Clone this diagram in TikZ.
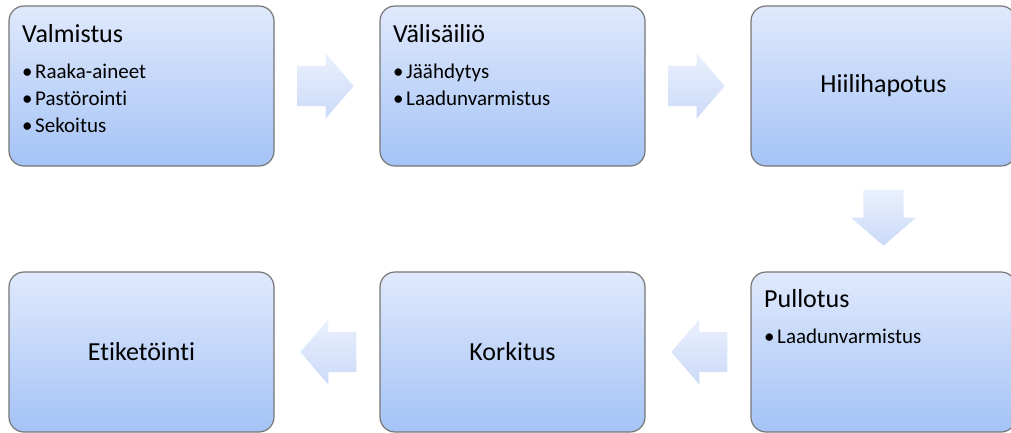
\documentclass[tikz,border=0pt]{standalone}
\usepackage{fontspec}
\setmainfont{Carlito}[Ligatures={NoCommon,NoRare}]
\usetikzlibrary{shapes.arrows,positioning,calc}

\definecolor{boxtop}{RGB}{224,233,252}
\definecolor{boxbot}{RGB}{164,195,246}
\definecolor{arrtop}{RGB}{234,240,253}
\definecolor{arrbot}{RGB}{203,218,249}
\definecolor{boxline}{RGB}{118,118,118}

\newcommand{\bul}{\makebox[13pt][l]{\textbullet}}

\tikzset{
  stage/.style={draw=boxline,line width=1.2pt,rounded corners=15pt,top color=boxtop,bottom color=boxbot,
    minimum width=265pt,minimum height=160pt,inner sep=0pt,outer sep=0pt,font=\fontsize{26}{30}\selectfont},
  blockarr/.style={single arrow,draw=none,top color=arrtop,bottom color=arrbot,inner xsep=0pt,inner ysep=20pt,outer sep=0pt,
    minimum height=56pt,minimum width=65pt,single arrow head extend=12.5pt,single arrow tip angle=98.5},
  ttl/.style={anchor=base west,inner sep=0pt,font=\fontsize{26}{30}\selectfont},
  itm/.style={anchor=base west,inner sep=0pt,font=\fontsize{21}{26}\selectfont}
}

\begin{document}
\begin{tikzpicture}[x=1pt,y=1pt,node distance=106pt]
\useasboundingbox (0,0) rectangle (1011,-432);
% the six stages
\node[stage] (valm) at (141.5,-86) {};
\node[stage,right=of valm] (vali) {};
\node[stage,right=of vali] (hiili) {Hiilihapotus};
\node[stage,below=of hiili] (pull) {};
\node[stage,left=of pull] (kork) {Korkitus};
\node[stage,left=of kork] (etik) {Etiketöinti};
% titles and bullets
\node[ttl] (valmt) at ($(valm.north west)+(13,-36)$) {Valmistus};
\node[itm] (valm1) at ($(valm.north west)+(13,-72)$) {\bul Raaka-aineet};
\node[itm] (valm2) at ($(valm.north west)+(13,-99)$) {\bul Pastörointi};
\node[itm] (valm3) at ($(valm.north west)+(13,-126)$) {\bul Sekoitus};
\node[ttl] (valit) at ($(vali.north west)+(13,-36)$) {Välisäiliö};
\node[itm] (vali1) at ($(vali.north west)+(13,-72)$) {\bul Jäähdytys};
\node[itm] (vali2) at ($(vali.north west)+(13,-99)$) {\bul Laadunvarmistus};
\node[ttl] (pullt) at ($(pull.north west)+(13,-35)$) {Pullotus};
\node[itm] (pull1) at ($(pull.north west)+(13,-71)$) {\bul Laadunvarmistus};
% block arrows between stages (center sits in the shaft, so shift back a bit)
\node[blockarr,xshift=-10pt] (a1) at ($(valm.east)!0.5!(vali.west)$) {};
\node[blockarr,xshift=-10pt] (a2) at ($(vali.east)!0.5!(hiili.west)$) {};
\node[blockarr,shape border rotate=270,inner xsep=20pt,inner ysep=0pt,yshift=10pt] (a3) at ($(hiili.south)!0.5!(pull.north)$) {};
\node[blockarr,shape border rotate=180,xshift=10pt] (a4) at ($(pull.west)!0.5!(kork.east)$) {};
\node[blockarr,shape border rotate=180,xshift=10pt] (a5) at ($(kork.west)!0.5!(etik.east)$) {};
\end{tikzpicture}
\end{document}
